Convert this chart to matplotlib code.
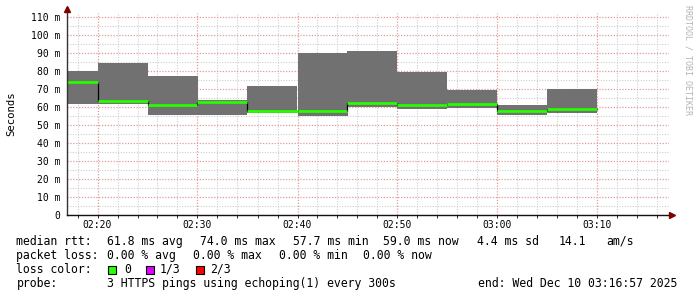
import numpy as np
import matplotlib
matplotlib.use('Agg')
import matplotlib.pyplot as plt
from matplotlib.patches import Rectangle

# minutes after 02:00 at the start of each 5 minute step
step_start = [15, 20, 25, 30, 35, 40, 45, 50, 55, 60, 65]
step_end = 70
# smoke (min .. max of the 3 pings), ms
smoke_min = [61.8, 61.8, 55.6, 55.6, 56.9, 55.1, 59.8, 59.1, 59.4, 55.6, 56.7]
smoke_max = [80.0, 84.6, 77.2, 63.9, 71.7, 90.0, 91.1, 79.6, 69.6, 61.1, 70.0]
median_rtt = [74.0, 63.6, 61.3, 62.6, 57.7, 58.0, 62.2, 61.0, 61.7, 58.0, 59.0]

y_ticks = list(range(0, 111, 10))
y_labels = ['0'] + ['%d m' % v for v in y_ticks[1:]]
x_ticks = [20, 30, 40, 50, 60, 70]
x_labels = ['02:20', '02:30', '02:40', '02:50', '03:00', '03:10']

# legend rows: (text pieces, pixel x where each piece starts)
rtt_items = ['median rtt:', '61.8 ms avg', '74.0 ms max', '57.7 ms min',
             '59.0 ms now', '4.4 ms sd', '14.1', 'am/s']
rtt_x = [16.5, 107.3, 200, 292.7, 383.3, 477.3, 558.3, 606]
loss_items = ['packet loss:', '0.00 % avg', '0.00 % max', '0.00 % min',
              '0.00 % now']
loss_x = [16.5, 107.3, 193.3, 279.3, 363]
probe_items = ['probe:', '3 HTTPS pings using echoping(1) every 300s',
               'end: Wed Dec 10 03:16:57 2025']
probe_x = [16.5, 107.3, 478]
loss_labels = ['0', '1/3', '2/3']
loss_colors = ['#26ff00', '#dd00ff', '#ff0000']

W, H = 697, 297
MONO = 'DejaVu Sans Mono'
FS = 8.3

fig = plt.figure(figsize=(W / 100, H / 100), dpi=100)
fig.patch.set_facecolor('white')
ax = fig.add_axes([67 / W, (H - 215) / H, 602 / W, 202 / H])

edges = np.array(step_start + [step_end], dtype=float)
widths = np.diff(edges)
lo = np.array(smoke_min)
hi = np.array(smoke_max)
ax.bar(edges[:-1], hi - lo, width=widths, bottom=lo, align='edge',
       color='#717171', linewidth=0, zorder=2)

# black step line under the coloured median
ax.step(edges, list(median_rtt) + [median_rtt[-1]], where='post',
        color='black', linewidth=0.9, zorder=3)
ax.hlines(median_rtt, edges[:-1], edges[1:], color=loss_colors[0],
          linewidth=2.0, zorder=4)

ax.set_xlim(16.95, 16.95 + 60.2)
ax.set_ylim(0, 202 / 1.8)

ax.set_xticks(x_ticks)
ax.set_xticklabels(x_labels, fontfamily=MONO, fontsize=7)
ax.set_xticks([v for v in range(18, 77, 2) if v % 10], minor=True)
ax.set_yticks(y_ticks)
ax.set_yticklabels(y_labels, fontfamily=MONO, fontsize=7)
ax.set_yticks(np.arange(5, 111, 10), minor=True)

ax.tick_params(axis='y', which='both', length=0, pad=5)
ax.tick_params(axis='x', which='both', length=2, width=0.7, color='#2c2c2c',
               direction='out', pad=1.5)

ax.grid(True, which='major', color='#e39a9a', linewidth=0.9,
        linestyle=(0, (1, 1.3)))
ax.grid(True, which='minor', color='#cdcdcd', linewidth=0.8,
        linestyle=(0, (1, 1.4)))
ax.set_axisbelow(True)

for sp in ax.spines.values():
    sp.set_visible(False)

# axis lines and arrows
ax.plot([0, 0], [0, 1.01], transform=ax.transAxes, color='#333333',
        linewidth=1, clip_on=False, zorder=5)
ax.plot([0, 1.0], [0, 0], transform=ax.transAxes, color='#111111',
        linewidth=1, clip_on=False, zorder=5)
ax.plot([0], [1 + 4.5 / 202], marker='^', markersize=4.5, color='#7f0000',
        transform=ax.transAxes, clip_on=False, zorder=6)
ax.plot([1 + 3 / 602], [0], marker='>', markersize=4.5, color='#7f0000',
        transform=ax.transAxes, clip_on=False, zorder=6)

fig.text(11 / W, 1 - 114 / H, 'Seconds', rotation=90, ha='center',
         va='center', fontfamily=MONO, fontsize=7.7)
fig.text(688 / W, 1 - 5 / H, 'RRDTOOL / TOBI OETIKER', rotation=270,
         ha='center', va='top', fontfamily=MONO, fontsize=6, color='#b4b4b4')

line_y = [241.5, 255.5, 269.5, 283.5]


def put_row(items, xs, yy):
    for txt, xx in zip(items, xs):
        fig.text(xx / W, 1 - yy / H, txt, ha='left', va='center',
                 fontfamily=MONO, fontsize=FS)


put_row(rtt_items, rtt_x, line_y[0])
put_row(loss_items, loss_x, line_y[1])
put_row(['loss color:'], [16.5], line_y[2])
put_row(probe_items, probe_x, line_y[3])

box_x = [108, 146, 196]
lab_x = [124, 160, 210.5]
for bx, lx, lab, col in zip(box_x, lab_x, loss_labels, loss_colors):
    fig.patches.append(Rectangle((bx / W, 1 - 273.5 / H), 8 / W, 8 / H,
                                 transform=fig.transFigure,
                                 facecolor=col, edgecolor='black',
                                 linewidth=0.8))
    fig.text(lx / W, 1 - line_y[2] / H, lab, ha='left', va='center',
             fontfamily=MONO, fontsize=FS)

fig.savefig('out.png', dpi=100, facecolor='white')
